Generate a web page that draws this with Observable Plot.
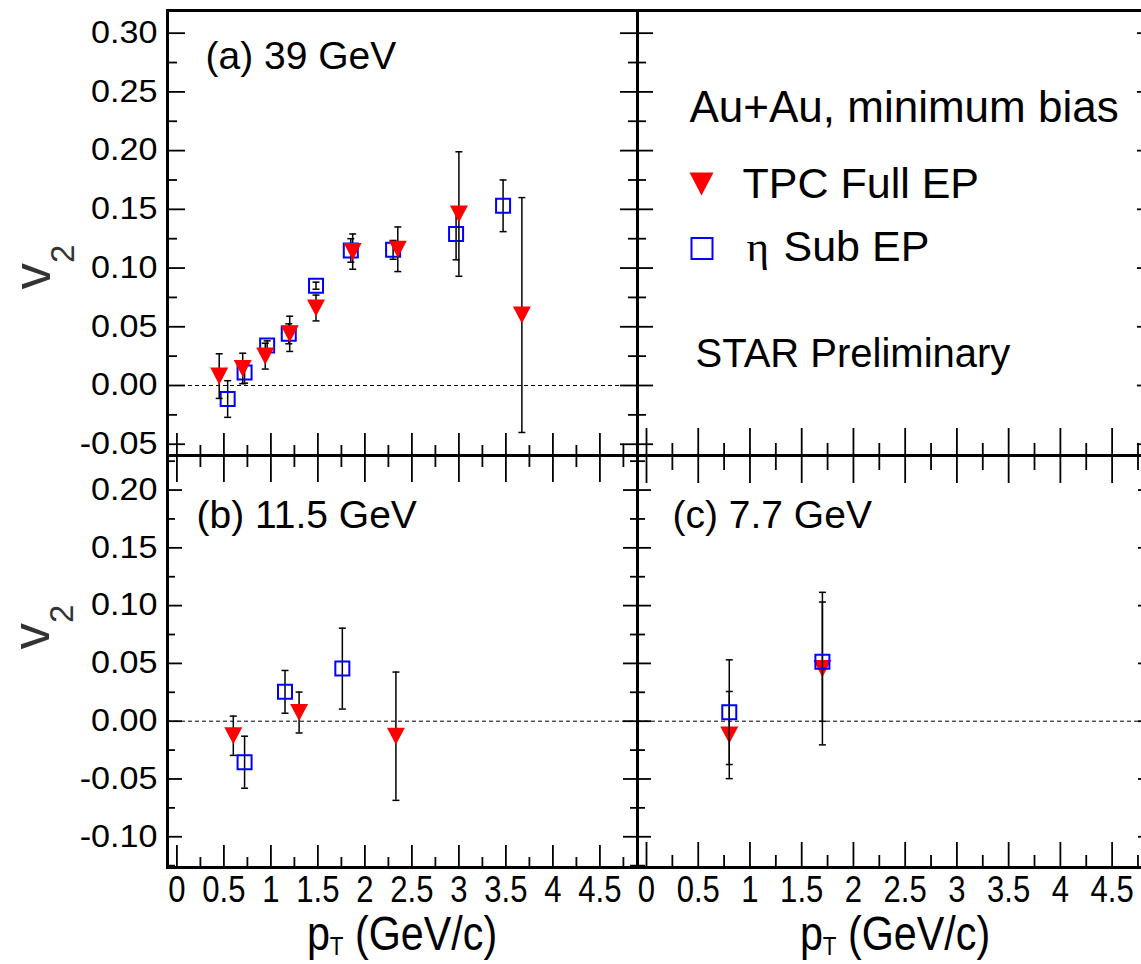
<!DOCTYPE html>
<html>
<head>
<meta charset="utf-8">
<script src="https://cdn.jsdelivr.net/npm/d3@7"></script>
<script src="https://cdn.jsdelivr.net/npm/@observablehq/plot@0.6"></script>
<style>
  html, body { margin: 0; padding: 0; background: #fff; overflow: hidden; }
  #figure { position: relative; width: 1141px; height: 964px; overflow: hidden; background: #fff; }
  #figure svg { position: absolute; }
</style>
</head>
<body>
<div id="figure"></div>
<script>
// Elliptic flow v2 vs pT, Au+Au minimum bias: TPC full event plane vs eta sub-event plane.
const FONT = '"Liberation Sans", Arial, Helvetica, sans-serif';

// (a) 39 GeV
const pt39Tpc  = [0.45, 0.70, 0.94, 1.20, 1.48, 1.87, 2.35, 3.00, 3.67];
const v2_39Tpc = [0.008, 0.0145, 0.025, 0.044, 0.066, 0.114, 0.116, 0.146, 0.060];
const err39Tpc = [0.019, 0.013, 0.011, 0.015, 0.011, 0.015, 0.019, 0.053, 0.100];
const pt39Sub  = [0.54, 0.72, 0.96, 1.19, 1.48, 1.85, 2.30, 2.97, 3.47];
const v2_39Sub = [-0.0115, 0.011, 0.034, 0.044, 0.085, 0.115, 0.1155, 0.129, 0.153];
const err39Sub = [0.0156, 0.009, 0.004, 0.0085, 0.003, 0.010, 0.008, 0.022, 0.022];

// (b) 11.5 GeV
const pt11Tpc  = [0.60, 1.30, 2.33];
const v2_11Tpc = [-0.0126, 0.0075, -0.013];
const err11Tpc = [0.017, 0.0177, 0.0555];
const pt11Sub  = [0.72, 1.15, 1.76];
const v2_11Sub = [-0.0355, 0.0254, 0.0455];
const err11Sub = [0.0225, 0.0185, 0.035];

// (c) 7.7 GeV
const pt7Tpc  = [0.80, 1.70];
const v2_7Tpc = [-0.012, 0.0455];
const err7Tpc = [0.0377, 0.066];
const pt7Sub  = [0.80, 1.70];
const v2_7Sub = [0.0078, 0.0515];
const err7Sub = [0.0453, 0.0516];

// axis ticks
const ptMajor  = [0, 0.5, 1, 1.5, 2, 2.5, 3, 3.5, 4, 4.5];
const ptMinor  = [0.25, 0.75, 1.25, 1.75, 2.25, 2.75, 3.25, 3.75, 4.25, 4.75];
const ptLabels = ["0", "0.5", "1", "1.5", "2", "2.5", "3", "3.5", "4", "4.5"];
const v2MajorTop  = [-0.05, 0, 0.05, 0.10, 0.15, 0.20, 0.25, 0.30];
const v2MinorTop  = [-0.025, 0.025, 0.075, 0.125, 0.175, 0.225, 0.275];
const v2LabelsTop = ["-0.05", "0.00", "0.05", "0.10", "0.15", "0.20", "0.25", "0.30"];
const v2MajorBot  = [-0.10, -0.05, 0, 0.05, 0.10, 0.15, 0.20];
const v2MinorBot  = [-0.125, -0.075, -0.025, 0.025, 0.075, 0.125, 0.175, 0.225];
const v2LabelsBot = ["-0.10", "-0.05", "0.00", "0.05", "0.10", "0.15", "0.20"];

const series = (pt, v2, err) =>
  pt.map((x, i) => ({pt: x, v2: v2[i], lo: v2[i] - err[i], hi: v2[i] + err[i]}));

// marker shapes (r = half width)
const radius = (size) => Math.sqrt(size / Math.PI);
const triangleDown = {draw(ctx, size) {
  const r = radius(size);
  ctx.moveTo(-r, -0.95 * r); ctx.lineTo(r, -0.95 * r); ctx.lineTo(0, 0.95 * r); ctx.closePath();
}};
const openSquare = {draw(ctx, size) {
  const r = radius(size);
  ctx.moveTo(-r, -r); ctx.lineTo(r, -r); ctx.lineTo(r, r); ctx.lineTo(-r, r); ctx.closePath();
}};
const errCap = {draw(ctx, size) {
  const r = radius(size);
  ctx.moveTo(-r, 0); ctx.lineTo(r, 0);
}};

function seriesMarks(data, kind) {
  const bar = {stroke: "black", strokeWidth: 1.5};
  return [
    Plot.ruleX(data, {x: "pt", y1: "lo", y2: "hi", ...bar}),
    Plot.dot(data, {x: "pt", y: "lo", symbol: errCap, r: 3.5, fill: "none", ...bar}),
    Plot.dot(data, {x: "pt", y: "hi", symbol: errCap, r: 3.5, fill: "none", ...bar}),
    kind === "tpc"
      ? Plot.dot(data, {x: "pt", y: "v2", symbol: triangleDown, r: 9, fill: "#ff0000", stroke: "none"})
      : Plot.dot(data, {x: "pt", y: "v2", symbol: openSquare, r: 7, fill: "none", stroke: "#0000ff", strokeWidth: 2})
  ];
}

// ROOT-style inward ticks on the frame sides
function sideTicks(values, side, len, fw, fh) {
  const o = {stroke: "black", strokeWidth: 1.8};
  if (side === "left")   return Plot.tickY(values, {y: d => d, insetRight: fw - len, ...o});
  if (side === "right")  return Plot.tickY(values, {y: d => d, insetLeft: fw - len, ...o});
  if (side === "bottom") return Plot.tickX(values, {x: d => d, insetTop: fh - len, ...o});
  return Plot.tickX(values, {x: d => d, insetBottom: fh - len, ...o});
}

function label(text, dx, dy, fontSize, extra = {}) {
  return Plot.text([text], {text: d => d, frameAnchor: "top-left", dx, dy,
    textAnchor: "start", lineAnchor: "bottom", fontSize, fill: "black", ...extra});
}

function stretchText(svg, aria, sx) {
  svg.querySelectorAll(`g[aria-label="${aria}"] text`).forEach(t => {
    const tr = t.getAttribute("transform") || "";
    t.setAttribute("transform", `${tr} scale(${sx},1)`);
  });
}

const fig = document.getElementById("figure");

function panel({left, top, width, height, mL, mR, mT, mB, xDomain, yDomain, xAxis, yAxis, ticks, marks}) {
  const fw = width - mL - mR, fh = height - mT - mB;
  const tickMarks = ticks.map(([vals, side, len]) => sideTicks(vals, side, len, fw, fh));
  const svg = Plot.plot({
    width, height,
    marginLeft: mL, marginRight: mR, marginTop: mT, marginBottom: mB,
    x: {domain: xDomain, label: null, ...(xAxis ? {} : {axis: null})},
    y: {domain: yDomain, label: null, ...(yAxis ? {} : {axis: null})},
    style: {background: "transparent", overflow: "visible", fontFamily: FONT, maxWidth: "none"},
    marks: [
      ...marks,
      ...tickMarks,
      ...(yAxis ? [Plot.axisY(yAxis.values, {tickSize: 0, tickPadding: 10, fontSize: 30.5, label: null,
        tickFormat: d => yAxis.labels[yAxis.values.indexOf(d)]})] : []),
      ...(xAxis ? [Plot.axisX(ptMajor, {tickSize: 0, tickPadding: 8, fontSize: 37, label: null,
        tickFormat: d => ptLabels[ptMajor.indexOf(d)]})] : []),
      Plot.frame({stroke: "black", strokeWidth: 3})
    ]
  });
  svg.style.left = left + "px";
  svg.style.top = top + "px";
  if (yAxis) stretchText(svg, "y-axis tick label", 1.12);
  if (xAxis) stretchText(svg, "x-axis tick label", 0.84);
  fig.append(svg);
  return svg;
}

// rotated "v2" axis title with subscript
function v2Title(svg, x, y) {
  const t = d3.select(svg).append("text")
    .attr("transform", `translate(${x},${y}) rotate(-90)`)
    .attr("font-family", FONT).attr("font-size", 53).attr("fill", "#333");
  t.append("tspan").text("v");
  t.append("tspan").attr("font-size", 33).attr("dy", 24).text("2");
}

// "pT (GeV/c)" axis title with subscript
function ptTitle(svg, cx, y) {
  const t = d3.select(svg).append("text")
    .attr("transform", `translate(${cx},${y}) scale(0.86,1)`)
    .attr("text-anchor", "middle")
    .attr("font-family", FONT).attr("font-size", 48).attr("fill", "black");
  t.append("tspan").text("p");
  t.append("tspan").attr("font-size", 26).attr("dy", 5).text("T");
  t.append("tspan").attr("dy", -5).text(" (GeV/c)");
}

const zero = Plot.ruleY([0], {stroke: "black", strokeWidth: 1, strokeDasharray: "4,3"});
const ptLeft = [-0.1, 4.9], ptRight = [-0.087, 4.9];
const v2Top = [-0.0596, 0.3193], v2Bot = [-0.1266, 0.2299];

// (a) 39 GeV
const svgA = panel({
  left: 0, top: 0, width: 645, height: 460, mL: 167, mR: 8, mT: 10, mB: 5,
  xDomain: ptLeft, yDomain: v2Top,
  yAxis: {values: v2MajorTop, labels: v2LabelsTop},
  ticks: [[v2MajorTop, "left", 18], [v2MinorTop, "left", 10], [v2MajorTop, "right", 17], [v2MinorTop, "right", 9],
          [ptMajor, "bottom", 22], [ptMinor, "bottom", 10]],
  marks: [zero,
    ...seriesMarks(series(pt39Sub, v2_39Sub, err39Sub), "sub"),
    ...seriesMarks(series(pt39Tpc, v2_39Tpc, err39Tpc), "tpc"),
    label("(a) 39 GeV", 38, 58, 39)]
});
v2Title(svgA, 50, 267);

// legend panel
panel({
  left: 630, top: 0, width: 530, height: 460, mL: 7, mR: 7, mT: 10, mB: 5,
  xDomain: ptRight, yDomain: v2Top,
  ticks: [[v2MajorTop, "left", 16], [v2MinorTop, "left", 9], [v2MajorTop, "right", 16], [v2MinorTop, "right", 9],
          [ptMajor, "bottom", 27], [ptMinor, "bottom", 12]],
  marks: [
    label("Au+Au, minimum bias", 52, 111, 44),
    Plot.dot([0], {frameAnchor: "top-left", dx: 64, dy: 173.5, symbol: triangleDown, r: 12, fill: "#ff0000", stroke: "none"}),
    label("TPC Full EP", 105, 187, 43),
    Plot.dot([0], {frameAnchor: "top-left", dx: 64.5, dy: 238, symbol: openSquare, r: 10.5, fill: "none", stroke: "#0000ff", strokeWidth: 2}),
    label("η", 109, 250, 43, {fontFamily: '"Liberation Serif", "DejaVu Serif", serif'}),
    label("Sub EP", 146, 250, 43),
    label("STAR Preliminary", 58, 356, 40)
  ]
});

// (b) 11.5 GeV
const svgB = panel({
  left: 0, top: 450, width: 645, height: 514, mL: 167, mR: 8, mT: 5, mB: 97,
  xDomain: ptLeft, yDomain: v2Bot, xAxis: true,
  yAxis: {values: v2MajorBot, labels: v2LabelsBot},
  ticks: [[v2MajorBot, "left", 15], [v2MinorBot, "left", 8], [v2MajorBot, "right", 14], [v2MinorBot, "right", 7],
          [ptMajor, "top", 27], [ptMinor, "top", 12], [ptMajor, "bottom", 22], [ptMinor, "bottom", 10]],
  marks: [zero,
    ...seriesMarks(series(pt11Sub, v2_11Sub, err11Sub), "sub"),
    ...seriesMarks(series(pt11Tpc, v2_11Tpc, err11Tpc), "tpc"),
    label("(b) 11.5 GeV", 29, 72, 39)]
});
v2Title(svgB, 49, 177);
ptTitle(svgB, 402, 500);

// (c) 7.7 GeV
const svgC = panel({
  left: 630, top: 450, width: 530, height: 514, mL: 7, mR: 7, mT: 5, mB: 97,
  xDomain: ptRight, yDomain: v2Bot, xAxis: true,
  ticks: [[v2MajorBot, "left", 14], [v2MinorBot, "left", 8], [v2MajorBot, "right", 15], [v2MinorBot, "right", 8],
          [ptMajor, "top", 28], [ptMinor, "top", 15], [ptMajor, "bottom", 25], [ptMinor, "bottom", 12]],
  marks: [zero,
    ...seriesMarks(series(pt7Tpc, v2_7Tpc, err7Tpc), "tpc"),
    ...seriesMarks(series(pt7Sub, v2_7Sub, err7Sub), "sub"),
    label("(c) 7.7 GeV", 35, 72, 39)]
});
ptTitle(svgC, 265, 500);
</script>
</body>
</html>
